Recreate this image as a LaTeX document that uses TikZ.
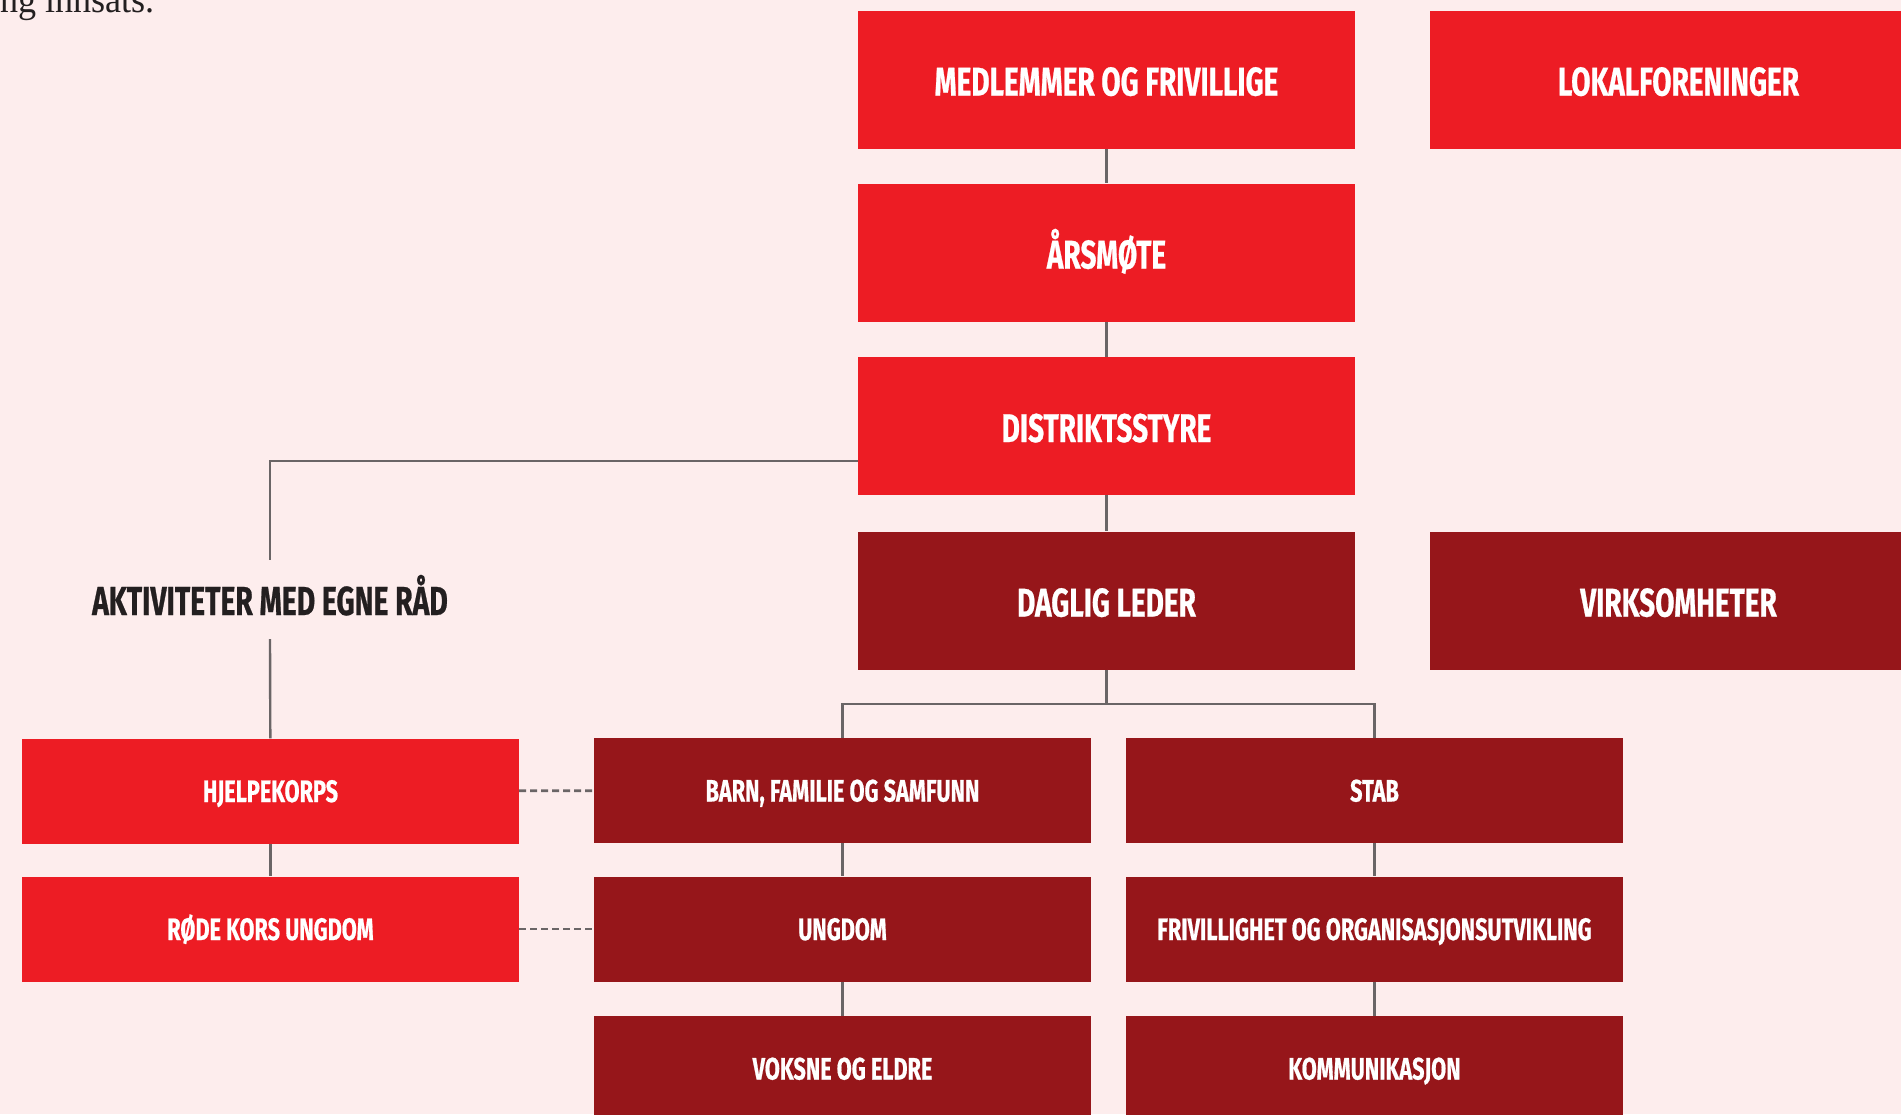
\documentclass[tikz,border=0pt]{standalone}
\usepackage{fontspec}
\newfontfamily\condfont{Fira Sans}[FakeStretch=0.70,FakeBold=0.6]
\newfontfamily\serffont{Liberation Serif}[FakeStretch=0.95]
\definecolor{bgpink}{HTML}{FDEDED}
\definecolor{redA}{HTML}{ED1C24}
\definecolor{redD}{HTML}{96161A}
\definecolor{lineg}{HTML}{6A6566}
\definecolor{inkd}{HTML}{231F20}
\tikzset{
  bigbox/.style={fill=redA, text=white, minimum width=497pt, minimum height=138pt,
    inner sep=0pt, text height=32pt, text depth=0pt,
    font=\condfont\bfseries\fontsize{40}{40}\selectfont},
  smallbox/.style={fill=redA, text=white, minimum width=497pt, minimum height=105pt,
    inner sep=0pt, text height=22pt, text depth=0pt,
    font=\condfont\bfseries\fontsize{31}{31}\selectfont},
  dark/.style={fill=redD},
  conn/.style={draw=lineg, line width=2.4pt},
  dashconn/.style={draw=lineg, line width=2.6pt, dash pattern=on 7pt off 4pt},
}
\begin{document}
\begin{tikzpicture}[x=1pt,y=-1pt]
\useasboundingbox (0,0) rectangle (1901,1114);
\fill[bgpink] (0,0) rectangle (1901,1114);
\clip (0,0) rectangle (1901,1114);
% fragment of preceding text
\node[anchor=base east, inner sep=0pt, text=inkd, font=\serffont\fontsize{38}{38}\selectfont] (frag) at (155,12) {ng innsats.};
% main column
\node[bigbox] (med) at (1106.5,79.5) {MEDLEMMER OG FRIVILLIGE};
\node[bigbox] (lok) at (1678.5,79.5) {LOKALFORENINGER};
\node[bigbox] (ars) at (1106.5,252.5) {ÅRSMØTE};
\node[bigbox] (dis) at (1106.5,426) {DISTRIKTSSTYRE};
\node[bigbox,dark] (dag) at (1106.5,600.5) {DAGLIG LEDER};
\node[bigbox,dark] (vir) at (1678.5,600.5) {VIRKSOMHETER};
% left branch
\node[inner sep=0pt, text=inkd, text height=28pt, text depth=0pt,
  font=\condfont\bfseries\fontsize{40.5}{40.5}\selectfont] (akt) at (270,601) {AKTIVITETER MED EGNE RÅD};
\node[smallbox] (hjk) at (270.5,791) {HJELPEKORPS};
\node[smallbox] (rku) at (270.5,929) {RØDE KORS UNGDOM};
% departments
\node[smallbox,dark] (barn) at (842.5,790.5) {BARN, FAMILIE OG SAMFUNN};
\node[smallbox,dark] (ung) at (842.5,929) {UNGDOM};
\node[smallbox,dark] (vok) at (842.5,1068.5) {VOKSNE OG ELDRE};
\node[smallbox,dark] (stab) at (1374.5,790.5) {STAB};
\node[smallbox,dark] (friv) at (1374.5,929) {FRIVILLIGHET OG ORGANISASJONSUTVIKLING};
\node[smallbox,dark] (komm) at (1374.5,1068.5) {KOMMUNIKASJON};
\coordinate (split) at (1106.5,704);
\coordinate (dl) at (858,461);
% connectors
\draw[conn] (med) -- (ars);
\draw[conn] (ars) -- (dis);
\draw[conn] (dis) -- (dag);
\draw[conn] (dl) -| ([yshift=27pt]akt.north);
\draw[conn] ([yshift=-24pt]akt.south) -- (hjk);
\draw[conn] (hjk) -- (rku);
\draw[conn] (dag.south) -- (split);
\draw[conn] (barn.north) |- (split) -| (stab.north);
\draw[conn] (barn) -- (ung);
\draw[conn] (ung) -- (vok);
\draw[conn] (stab) -- (friv);
\draw[conn] (friv) -- (komm);
\draw[dashconn] (hjk) -- (barn);
\draw[dashconn] (rku) -- (ung);
\end{tikzpicture}
\end{document}
